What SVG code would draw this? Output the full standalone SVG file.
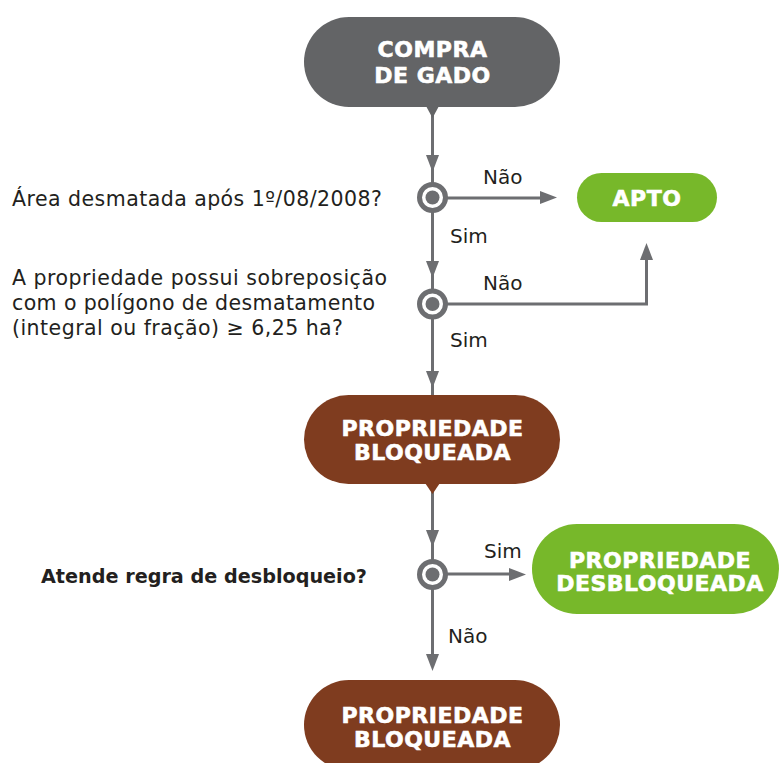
<svg xmlns="http://www.w3.org/2000/svg" width="779" height="763" viewBox="0 0 779 763">
<style>
.pilltxt{font-family:"DejaVu Sans","Liberation Sans",sans-serif;font-weight:bold;font-size:22px;fill:#fff;stroke:#fff;stroke-width:0.6px;text-anchor:middle;letter-spacing:0.5px}
.body{font-family:"DejaVu Sans","Liberation Sans",sans-serif;font-size:20.5px;fill:#231f20}
.lbl{font-family:"DejaVu Sans","Liberation Sans",sans-serif;font-size:20px;fill:#231f20}
.bold{font-family:"DejaVu Sans","Liberation Sans",sans-serif;font-weight:bold;font-size:19.5px;fill:#231f20}
.ln{stroke:#6d6e71;stroke-width:3;fill:none}
.ah{fill:#6d6e71}
.ring{fill:#fff;stroke:#6d6e71;stroke-width:5}
.dot{fill:#6d6e71}
</style>
<defs>
<polygon id="arrD" points="-6.5,-17 6.5,-17 0,0"/>
<polygon id="arrR" points="-17,-6.5 -17,6.5 0,0"/>
<polygon id="arrU" points="-6.5,17 6.5,17 0,0"/>
<g id="dec"><circle class="ring" r="13"/><circle class="dot" r="7"/></g>
</defs>
<g id="connectors">
<path class="ln" d="M432.5,107 V198"/>
<use href="#arrD" class="ah" x="432.5" y="172"/>
<path class="ln" d="M432.5,198 H542"/>
<use href="#arrR" class="ah" x="557" y="197.5"/>
<path class="ln" d="M432.5,198 V304"/>
<use href="#arrD" class="ah" x="432.5" y="278"/>
<path class="ln" d="M432.5,304 H646.5 V258"/>
<use href="#arrU" class="ah" x="646.5" y="243"/>
<path class="ln" d="M432.5,304 V396"/>
<use href="#arrD" class="ah" x="432.5" y="388"/>
<path class="ln" d="M432.5,484 V574"/>
<use href="#arrD" class="ah" x="432.5" y="547"/>
<path class="ln" d="M432.5,574 H512"/>
<use href="#arrR" class="ah" x="526" y="574.5"/>
<path class="ln" d="M432.5,574 V660"/>
<use href="#arrD" class="ah" x="432.5" y="671"/>
<text class="lbl" x="483" y="184">Não</text>
<text class="lbl" x="450" y="243">Sim</text>
<text class="lbl" x="483" y="290">Não</text>
<text class="lbl" x="450" y="347">Sim</text>
<text class="lbl" x="484" y="558">Sim</text>
<text class="lbl" x="448" y="643">Não</text>
</g>
<g id="compra">
<rect x="304" y="17" width="256" height="90" rx="45" fill="#636466"/>
<polygon points="426,106 439,106 432.5,118" fill="#636466"/>
<text class="pilltxt" x="432.5" y="57">COMPRA</text>
<text class="pilltxt" x="432.5" y="83">DE GADO</text>
</g>
<g id="apto">
<rect x="577" y="173" width="140" height="49" rx="24.5" fill="#77b82a"/>
<text class="pilltxt" x="647" y="206">APTO</text>
</g>
<g id="q1">
<use href="#dec" x="432.5" y="197.5"/>
<text class="body" x="12" y="206" textLength="370" lengthAdjust="spacing">Área desmatada após 1º/08/2008?</text>
</g>
<g id="q2">
<use href="#dec" x="432.5" y="304"/>
<text class="body" x="12" y="285" textLength="375" lengthAdjust="spacing">A propriedade possui sobreposição</text>
<text class="body" x="12" y="310" textLength="363" lengthAdjust="spacing">com o polígono de desmatamento</text>
<text class="body" x="12" y="335" textLength="331" lengthAdjust="spacing">(integral ou fração) ≥ 6,25 ha?</text>
</g>
<g id="bloqueada1">
<rect x="304" y="395" width="256" height="89" rx="44.5" fill="#7f3c1f"/>
<polygon points="425,483 440,483 432.5,494" fill="#7f3c1f"/>
<text class="pilltxt" x="432.5" y="436">PROPRIEDADE</text>
<text class="pilltxt" x="432.5" y="460">BLOQUEADA</text>
</g>
<g id="q3">
<use href="#dec" x="432.5" y="574.5"/>
<text class="bold" x="41" y="583" textLength="326" lengthAdjust="spacingAndGlyphs">Atende regra de desbloqueio?</text>
</g>
<g id="desbloqueada">
<rect x="532" y="524" width="247" height="90" rx="45" fill="#77b82a"/>
<text class="pilltxt" x="660" y="568">PROPRIEDADE</text>
<text class="pilltxt" x="660" y="591">DESBLOQUEADA</text>
</g>
<g id="bloqueada2">
<rect x="304" y="680" width="256" height="90" rx="45" fill="#7f3c1f"/>
<text class="pilltxt" x="432.5" y="723">PROPRIEDADE</text>
<text class="pilltxt" x="432.5" y="747">BLOQUEADA</text>
</g>
</svg>
